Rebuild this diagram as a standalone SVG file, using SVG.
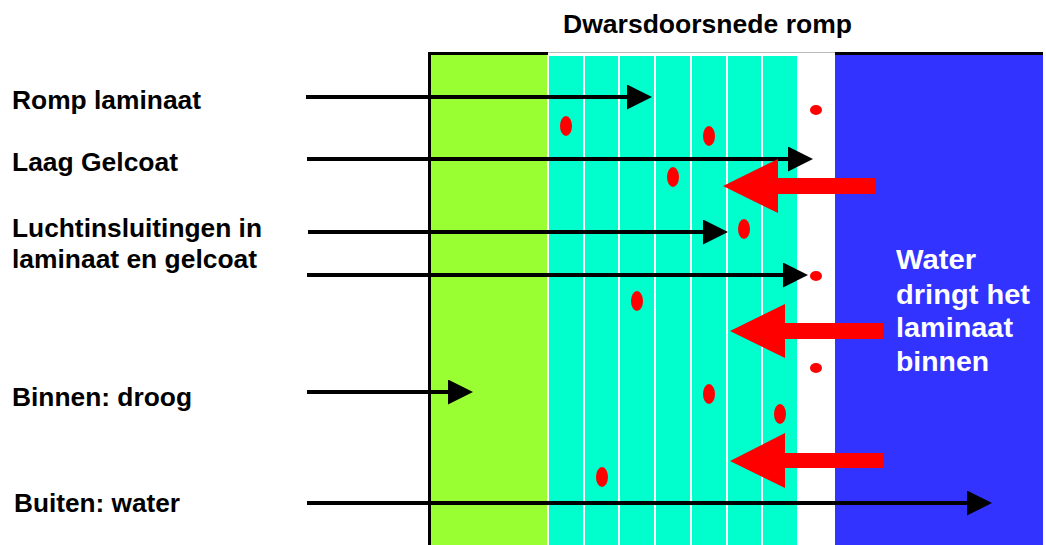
<svg xmlns="http://www.w3.org/2000/svg" width="1046" height="545" viewBox="0 0 1046 545">
  <style>
    .lbl { font-family: "Liberation Sans", Arial, sans-serif; font-weight: bold; font-size: 25px; fill: #000; }
    .wtr { font-family: "Liberation Sans", Arial, sans-serif; font-weight: bold; font-size: 27px; fill: #fff; }
    .blk { stroke: #000; stroke-width: 4; fill: none; marker-end: url(#ah); }
    .red { fill: #ff0000; }
    .sep { stroke: #fff; stroke-width: 2; }
  </style>
  <defs>
    <marker id="ah" markerUnits="userSpaceOnUse" markerWidth="26" markerHeight="26" refX="5" refY="12.5" orient="auto">
      <path d="M0,0 L25,12.5 L0,25 Z" fill="#000"/>
    </marker>
  </defs>
  <rect width="1046" height="545" fill="#fff"/>

  <g id="layers">
    <rect id="binnen" x="430" y="54" width="118" height="491" fill="#99ff33"/>
    <rect id="laminaat" x="548" y="56" width="249" height="489" fill="#00ffcc"/>
    <rect id="water" x="835" y="54" width="208" height="491" fill="#3333ff"/>
    <line class="sep" x1="548" y1="54" x2="548" y2="545"/>
    <line class="sep" x1="584" y1="54" x2="584" y2="545"/>
    <line class="sep" x1="619" y1="54" x2="619" y2="545"/>
    <line class="sep" x1="655" y1="54" x2="655" y2="545"/>
    <line class="sep" x1="691" y1="54" x2="691" y2="545"/>
    <line class="sep" x1="727" y1="54" x2="727" y2="545"/>
    <line class="sep" x1="762" y1="54" x2="762" y2="545"/>
    <rect x="428" y="52" width="120" height="3" fill="#000"/>
    <rect x="835" y="52" width="208" height="3" fill="#000"/>
    <line x1="548" y1="52.5" x2="835" y2="52.5" stroke="#bbb" stroke-width="1"/>
    <rect x="428" y="52" width="3" height="493" fill="#000"/>
  </g>

  <g id="bubbles" class="red">
    <ellipse cx="566" cy="126" rx="6" ry="10"/>
    <ellipse cx="709" cy="136" rx="6" ry="10"/>
    <ellipse cx="673" cy="177" rx="6" ry="10"/>
    <ellipse cx="744" cy="229" rx="6" ry="10"/>
    <ellipse cx="637" cy="301" rx="6" ry="10"/>
    <ellipse cx="709" cy="394" rx="6" ry="10"/>
    <ellipse cx="780" cy="414" rx="6" ry="10"/>
    <ellipse cx="602" cy="477" rx="6" ry="10"/>
    <ellipse cx="816" cy="110" rx="6" ry="5"/>
    <ellipse cx="816" cy="276" rx="6" ry="5"/>
    <ellipse cx="816" cy="368" rx="6" ry="5"/>
  </g>

  <g id="connectors">
    <line class="blk" x1="306" y1="97" x2="632" y2="97"/>
    <line class="blk" x1="307" y1="159" x2="793" y2="159"/>
    <line class="blk" x1="308" y1="232" x2="708" y2="232"/>
    <line class="blk" x1="307" y1="275" x2="788" y2="275"/>
    <line class="blk" x1="307" y1="392" x2="453" y2="392"/>
    <line class="blk" x1="307" y1="503" x2="972" y2="503"/>
    <polygon class="red" points="723,186 778,159 778,178 876,178 876,194 778,194 778,213"/>
    <polygon class="red" points="730,331 785,304 785,323 883,323 883,339 785,339 785,358"/>
    <polygon class="red" points="730,461 785,433 785,453 884,453 884,468 785,468 785,488"/>
  </g>

  <g id="title">
    <text class="lbl" x="563" y="33" textLength="289" lengthAdjust="spacingAndGlyphs">Dwarsdoorsnede romp</text>
  </g>
  <g id="label-romp">
    <text class="lbl" x="12" y="109" textLength="189" lengthAdjust="spacingAndGlyphs">Romp laminaat</text>
  </g>
  <g id="label-gelcoat">
    <text class="lbl" x="12" y="171" textLength="166" lengthAdjust="spacingAndGlyphs">Laag Gelcoat</text>
  </g>
  <g id="label-lucht">
    <text class="lbl" x="12" y="237" textLength="250" lengthAdjust="spacingAndGlyphs">Luchtinsluitingen in</text>
    <text class="lbl" x="12" y="268" textLength="245" lengthAdjust="spacingAndGlyphs">laminaat en gelcoat</text>
  </g>
  <g id="label-binnen">
    <text class="lbl" x="12" y="406" textLength="180" lengthAdjust="spacingAndGlyphs">Binnen: droog</text>
  </g>
  <g id="label-buiten">
    <text class="lbl" x="14" y="512" textLength="166" lengthAdjust="spacingAndGlyphs">Buiten: water</text>
  </g>
  <g id="label-water">
    <text class="wtr" x="896" y="269" textLength="80" lengthAdjust="spacingAndGlyphs">Water</text>
    <text class="wtr" x="896" y="304" textLength="134" lengthAdjust="spacingAndGlyphs">dringt het</text>
    <text class="wtr" x="896" y="337" textLength="117" lengthAdjust="spacingAndGlyphs">laminaat</text>
    <text class="wtr" x="896" y="371" textLength="93" lengthAdjust="spacingAndGlyphs">binnen</text>
  </g>
</svg>
